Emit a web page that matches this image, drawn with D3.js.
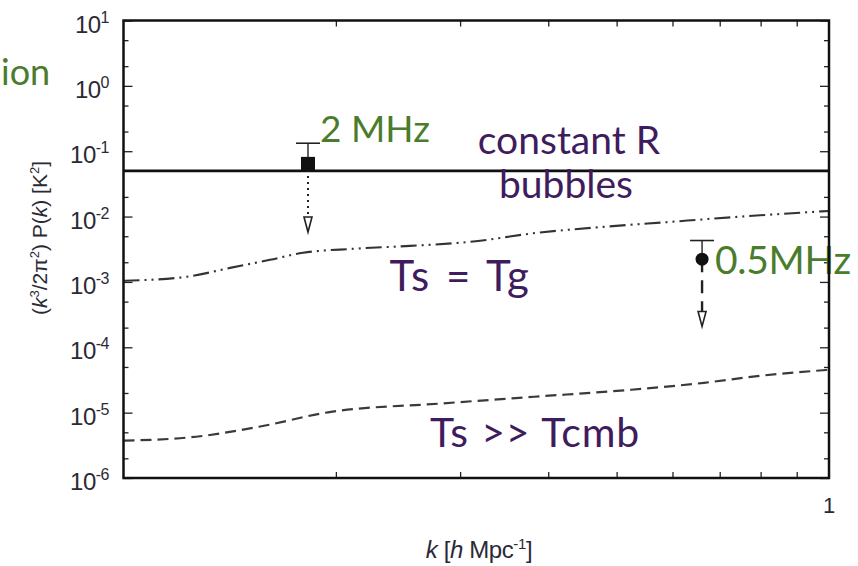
<!DOCTYPE html>
<html>
<head>
<meta charset="utf-8">
<script src="https://cdn.jsdelivr.net/npm/d3@7"></script>
<style>
  html, body { margin: 0; padding: 0; background: #fff; }
  svg { display: block; }
</style>
</head>
<body>
<svg id="chart" width="858" height="566"></svg>
<script>
// 21cm power spectrum curves vs wavenumber k
const kTsTg = [0.1, 0.123, 0.1416, 0.1613, 0.1797, 0.2115, 0.2547, 0.3098, 0.3856, 0.4783, 0.5951, 0.7406, 1.0];
const pTsTg = [1.04e-3, 1.20e-3, 1.64e-3, 2.18e-3, 2.79e-3, 3.21e-3, 3.56e-3, 4.10e-3, 5.64e-3, 6.95e-3, 8.29e-3, 9.89e-3, 1.22e-2];

const kTsHot = [0.1, 0.1267, 0.1556, 0.1968, 0.2791, 0.3819, 0.5241, 0.665, 0.7985, 1.0];
const pTsHot = [3.72e-6, 4.28e-6, 6.08e-6, 1.03e-5, 1.37e-5, 1.75e-5, 2.24e-5, 2.86e-5, 3.66e-5, 4.53e-5];

const constantR = 0.05;

// upper-limit points with caps and downward arrows
const limitLabels = ["2 MHz", "0.5MHz"];
const limitK = [0.1826, 0.6608];
const limitP = [0.064, 2.23e-3];
const limitCap = [0.1325, 4.30e-3];
const limitArrow = [5.8e-3, 2.08e-4];

const yMajor = [1e-6, 1e-5, 1e-4, 1e-3, 1e-2, 1e-1, 1e0, 1e1];
const yExp = ["-6", "-5", "-4", "-3", "-2", "-1", "0", "1"];
const xMinor = [0.2, 0.3, 0.4, 0.5, 0.6, 0.7, 0.8, 0.9];
const xTickLabels = ["1"];

const svg = d3.select("#chart");
const L = 123.5, R = 829, T = 20.5, B = 478;

const x = d3.scaleLog().domain([0.1, 1]).range([L, R]);
const y = d3.scaleLog().domain([1e-6, 10]).range([B, T]);

const yMinor = [];
yMajor.slice(0, -1).forEach(v => { yMinor.push(2 * v, 5 * v); });

const tickColor = "#222";
const green = "#4a7c2c";
const purple = "#3f1c5d";
const annFont = "Lato, 'Open Sans', sans-serif";
const axFont = "'Liberation Sans', Arial, sans-serif";

// ticks on all four sides, pointing inward
function styleAxis(g) {
  g.select(".domain").remove();
  g.selectAll(".tick line").attr("stroke", tickColor).attr("stroke-width", 1.3);
}
svg.append("g").attr("transform", `translate(${L},0)`)
  .call(d3.axisLeft(y).tickValues(yMajor).tickSize(-9).tickFormat("")).call(styleAxis);
svg.append("g").attr("transform", `translate(${L},0)`)
  .call(d3.axisLeft(y).tickValues(yMinor).tickSize(-5).tickFormat("")).call(styleAxis);
svg.append("g").attr("transform", `translate(${R},0)`)
  .call(d3.axisRight(y).tickValues(yMajor).tickSize(-9).tickFormat("")).call(styleAxis);
svg.append("g").attr("transform", `translate(${R},0)`)
  .call(d3.axisRight(y).tickValues(yMinor).tickSize(-5).tickFormat("")).call(styleAxis);
svg.append("g").attr("transform", `translate(0,${B})`)
  .call(d3.axisBottom(x).tickValues(xMinor).tickSize(-6).tickFormat("")).call(styleAxis);
svg.append("g").attr("transform", `translate(0,${T})`)
  .call(d3.axisTop(x).tickValues(xMinor).tickSize(-6).tickFormat("")).call(styleAxis);

// y tick labels 10^n
const yl = svg.append("g").attr("font-family", axFont).attr("fill", "#2a2a35");
yMajor.forEach((v, i) => {
  const t = yl.append("text")
    .attr("x", 109).attr("y", y(v) + 12)
    .attr("text-anchor", "end").attr("font-size", 24).attr("letter-spacing", -0.5);
  t.append("tspan").text("10");
  t.append("tspan").attr("dy", -10).attr("font-size", 16).text(yExp[i]);
});

// x tick label
svg.append("text").attr("x", x(1)).attr("y", 513)
  .attr("text-anchor", "middle").attr("font-family", axFont)
  .attr("font-size", 22).attr("fill", "#2a2a35").text(xTickLabels[0]);

// axis titles
const xt = svg.append("text").attr("x", 479).attr("y", 558)
  .attr("text-anchor", "middle").attr("font-family", axFont)
  .attr("font-size", 24).attr("fill", "#2a2a35").attr("letter-spacing", -0.4);
xt.append("tspan").attr("font-style", "italic").text("k");
xt.append("tspan").text(" [");
xt.append("tspan").attr("font-style", "italic").text("h");
xt.append("tspan").text(" Mpc");
xt.append("tspan").attr("dy", -9).attr("font-size", 15).text("-1");
xt.append("tspan").attr("dy", 9).text("]");

const yt = svg.append("text")
  .attr("transform", "translate(47,238) rotate(-90)")
  .attr("text-anchor", "middle").attr("font-family", axFont)
  .attr("font-size", 21).attr("fill", "#2a2a35");
yt.append("tspan").text("(");
yt.append("tspan").attr("font-style", "italic").text("k");
yt.append("tspan").attr("dy", -8).attr("font-size", 13).text("3");
yt.append("tspan").attr("dy", 8).text("/2\u03c0");
yt.append("tspan").attr("dy", -8).attr("font-size", 13).text("2");
yt.append("tspan").attr("dy", 8).text(") P(");
yt.append("tspan").attr("font-style", "italic").text("k");
yt.append("tspan").text(") [K");
yt.append("tspan").attr("dy", -8).attr("font-size", 13).text("2");
yt.append("tspan").attr("dy", 8).text("]");

// curves
const line = d3.line().x(d => x(d[0])).y(d => y(d[1])).curve(d3.curveMonotoneX);
const plot = svg.append("g");

plot.append("path")
  .datum(kTsTg.map((k, i) => [k, pTsTg[i]]))
  .attr("d", line).attr("fill", "none").attr("stroke", "#333")
  .attr("stroke-width", 2.1).attr("stroke-dasharray", "16,5,2,5,2,5");

plot.append("path")
  .datum(kTsHot.map((k, i) => [k, pTsHot[i]]))
  .attr("d", line).attr("fill", "none").attr("stroke", "#3a3a3a")
  .attr("stroke-width", 2.2).attr("stroke-dasharray", "11,6");

plot.append("line")
  .attr("x1", x(0.1)).attr("x2", x(1))
  .attr("y1", y(constantR)).attr("y2", y(constantR))
  .attr("stroke", "#111").attr("stroke-width", 2.6);

// upper limits
limitK.forEach((k, i) => {
  const cx = x(k), cy = y(limitP[i]), capY = y(limitCap[i]), tipY = y(limitArrow[i]);
  const g = plot.append("g");
  g.append("line").attr("x1", cx - 12).attr("x2", cx + 12)
    .attr("y1", capY).attr("y2", capY).attr("stroke", "#222").attr("stroke-width", 1.6);
  g.append("line").attr("x1", cx).attr("x2", cx)
    .attr("y1", capY).attr("y2", cy).attr("stroke", "#222").attr("stroke-width", 1.4);
  g.append("line").attr("x1", cx).attr("x2", cx)
    .attr("y1", cy).attr("y2", tipY - 12)
    .attr("stroke", "#222").attr("stroke-width", i === 0 ? 2 : 2.4)
    .attr("stroke-dasharray", i === 0 ? "2,4" : "13,8");
  g.append("path")
    .attr("d", `M${cx - 4},${tipY - 15} L${cx + 4},${tipY - 15} L${cx},${tipY} Z`)
    .attr("fill", "#fff").attr("stroke", "#222").attr("stroke-width", 1.6);
  if (i === 0) {
    g.append("rect").attr("x", cx - 7).attr("y", cy - 7)
      .attr("width", 14).attr("height", 14).attr("fill", "#111");
  } else {
    g.append("circle").attr("cx", cx).attr("cy", cy).attr("r", 6.5).attr("fill", "#111");
  }
});

// annotations
const ann = svg.append("g").attr("font-family", annFont);
ann.append("text").attr("x", 1).attr("y", 85).attr("font-size", 36).attr("fill", green).text("ion");
ann.append("text").attr("x", 320).attr("y", 142).attr("font-size", 37).attr("fill", green).text(limitLabels[0]);
ann.append("text").attr("x", 715).attr("y", 274).attr("font-size", 39).attr("letter-spacing", -0.3).attr("fill", green).text(limitLabels[1]);
ann.append("text").attr("x", 569).attr("y", 154).attr("text-anchor", "middle").attr("font-size", 39).attr("fill", purple).text("constant R");
ann.append("text").attr("x", 566).attr("y", 198).attr("text-anchor", "middle").attr("font-size", 39).attr("fill", purple).text("bubbles");
ann.append("text").attr("x", 460).attr("y", 291).attr("text-anchor", "middle").attr("font-size", 42)
  .attr("word-spacing", 3).attr("letter-spacing", 1.5).attr("fill", purple).text("Ts = Tg");
ann.append("text").attr("x", 535).attr("y", 447).attr("text-anchor", "middle").attr("font-size", 41)
  .attr("word-spacing", 1).attr("letter-spacing", 0.8).attr("fill", purple).text("Ts >> Tcmb");

// frame
svg.append("rect").attr("x", L).attr("y", T).attr("width", R - L).attr("height", B - T)
  .attr("fill", "none").attr("stroke", "#111").attr("stroke-width", 2.5);
</script>
</body>
</html>
